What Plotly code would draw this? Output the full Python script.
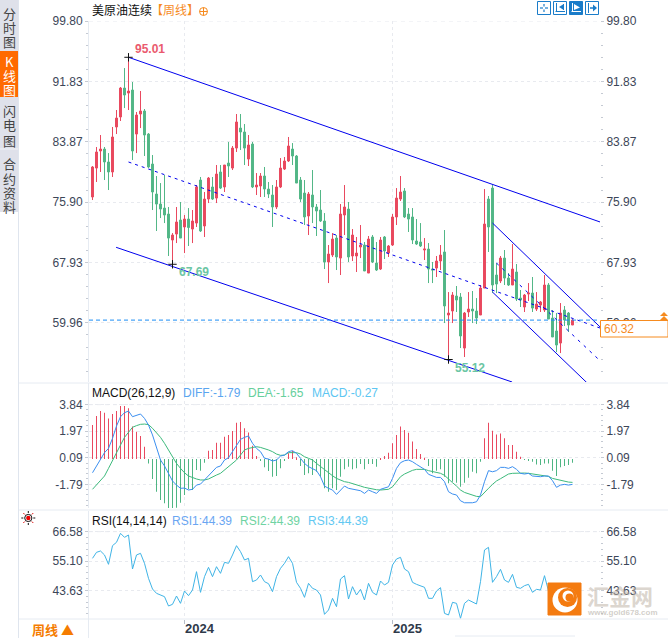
import numpy as np
import plotly.graph_objects as go

W, H = 668, 638

# weekly candles, oldest first
opens = [76.57,80.39,82.64,82.90,81.19,79.87,85.81,87.13,90.95,90.29,90.69,84.88,87.52,87.92,84.88,80.92,76.96,75.64,75.11,74.32,
         70.89,71.68,73.53,72.61,73.66,72.34,73.13,78.81,72.74,76.30,77.89,76.43,79.87,77.89,81.05,80.39,83.03,85.67,85.15,81.58,
         83.56,77.89,78.02,79.34,77.62,76.83,75.25,77.89,80.26,81.32,82.90,81.98,78.81,77.09,74.06,76.83,75.25,74.85,73.40,67.99,
         68.91,71.15,68.51,74.19,74.98,68.78,68.78,69.97,70.23,66.53,71.29,67.85,67.06,71.29,69.17,70.23,73.93,76.30,77.36,74.32,
         73.93,70.76,70.63,69.57,69.70,67.06,67.19,68.12,69.31,60.99,61.52,63.50,63.37,56.63,61.39,61.78,61.52,60.99,64.55,76.30,
         77.75,66.27,65.48,68.51,65.87,64.95,66.67,63.23,62.05,63.76,63.89,61.78,62.31,61.65,64.95,60.59,58.88,57.29,61.65,61.25,59.67]
highs = [80.66,83.17,84.75,83.17,82.37,85.81,88.05,91.09,93.59,95.01,91.75,87.79,90.56,88.18,85.01,82.11,79.34,78.41,79.47,75.25,
         71.81,75.25,75.91,74.19,75.11,74.85,78.15,79.21,77.23,79.21,79.21,80.79,80.79,80.79,83.83,83.30,87.52,87.52,86.20,84.75,
         83.83,79.73,79.73,80.53,78.55,78.15,78.81,81.71,81.85,84.49,83.69,82.11,79.21,78.81,77.23,80.13,75.64,77.49,74.45,70.23,
         71.81,71.55,75.64,78.15,75.91,72.34,71.29,72.87,70.63,71.42,71.55,70.63,71.29,71.42,70.23,74.32,77.75,79.34,77.75,75.11,
         75.11,73.66,73.13,71.15,70.49,67.99,68.78,70.23,72.21,64.02,64.02,64.82,63.89,61.39,64.02,64.16,63.23,64.95,77.62,76.70,
         78.15,67.85,68.78,69.57,66.53,70.36,67.72,64.29,63.76,65.21,66.01,64.02,62.84,66.27,65.21,61.65,61.25,62.57,62.18,61.39,60.46]
lows = [76.17,78.55,79.87,78.81,77.49,79.21,84.88,86.60,88.31,88.05,81.45,82.37,85.67,81.98,80.39,74.85,72.08,73.79,73.13,68.78,
        67.69,70.49,71.15,69.17,70.10,70.49,72.61,71.95,71.29,75.77,76.17,75.77,77.62,77.23,79.21,80.13,82.51,82.77,80.79,80.66,
        77.75,76.83,76.57,76.57,76.43,72.61,74.98,77.75,80.13,81.19,80.79,78.41,75.91,72.87,71.55,73.13,71.42,73.27,67.06,65.21,
        68.65,66.93,66.27,71.55,67.99,68.12,66.67,68.51,66.80,66.53,67.85,66.80,66.93,68.38,68.65,70.10,72.87,76.04,73.79,71.95,
        70.36,70.23,69.97,68.25,65.21,65.21,66.01,66.93,59.93,55.12,59.93,61.39,56.63,55.45,60.73,59.93,59.80,60.99,64.55,69.31,
        63.89,63.89,65.21,64.95,64.82,64.95,62.84,62.05,61.39,62.84,61.39,61.52,61.39,61.39,60.46,58.09,56.10,55.97,59.54,58.75,59.67]
closes = [80.53,82.51,82.90,81.19,79.87,84.49,86.99,90.95,90.03,90.56,82.64,87.39,87.92,84.75,80.53,77.23,75.64,74.98,74.19,71.15,
          71.55,73.27,71.15,73.66,72.54,73.40,77.89,72.08,76.30,79.07,76.30,79.60,77.75,80.79,80.66,83.03,86.47,85.15,83.03,83.43,
          77.89,78.15,79.34,77.62,76.96,75.25,77.89,80.39,81.32,83.30,81.98,78.41,76.30,73.93,76.96,75.25,74.72,73.40,67.99,69.04,
          71.02,68.65,74.32,75.25,68.65,71.55,69.17,70.23,66.80,71.02,67.99,66.93,70.89,69.44,70.10,73.93,76.43,77.23,73.93,73.66,
          70.89,70.36,70.10,69.70,67.06,66.93,68.12,68.91,62.18,61.25,63.63,62.97,58.22,61.25,61.78,61.52,60.59,64.55,73.00,72.61,
          64.95,65.08,68.51,65.87,64.95,67.06,63.10,62.97,63.63,63.89,61.91,62.44,62.71,64.95,60.46,58.09,57.03,61.25,60.33,59.67,60.32]

macd_hist = [2.40,3.04,3.39,3.27,2.87,3.18,3.39,3.75,3.75,3.58,2.29,1.93,1.63,0.87,-0.31,-1.41,-2.31,-2.90,-3.13,-3.56,
             -3.56,-3.44,-3.09,-2.54,-2.14,-2.19,-0.78,-0.82,-0.26,0.59,0.64,1.15,1.15,1.58,1.70,1.98,2.57,2.62,2.17,1.88,
             0.94,0.21,-0.14,-0.59,-0.85,-1.25,-1.20,-0.66,-0.07,0.40,0.57,0.12,-0.49,-1.13,-1.01,-1.13,-0.90,-1.25,-2.07,-2.31,
             -2.07,-2.19,-1.25,-0.73,-0.54,-0.73,-0.66,-0.35,-0.73,-0.35,-0.35,-0.54,0.02,0.21,0.45,1.11,1.70,2.29,2.05,1.86,
             1.23,0.71,0.35,0.09,-0.49,-1.01,-0.82,-0.73,-1.25,-1.72,-1.60,-1.67,-1.96,-1.67,-1.32,-0.90,-1.01,-0.19,1.46,2.57,
             2.00,1.74,1.81,1.46,0.99,0.99,0.52,0.16,-0.02,-0.07,-0.19,-0.38,-0.42,-0.31,-0.31,-0.82,-1.20,-0.59,-0.49,-0.42,-0.27]
macd_diff = [-0.97,-0.49,-0.02,0.45,0.75,1.46,2.33,2.99,3.27,3.39,2.99,3.11,3.18,2.87,2.40,1.70,0.87,-0.07,-0.49,-1.01,
             -1.55,-1.84,-2.07,-2.05,-2.19,-2.14,-1.84,-1.77,-1.48,-1.13,-0.90,-0.59,-0.49,-0.07,0.09,0.52,0.99,1.39,1.53,1.63,
             1.11,0.75,0.52,0.05,0.00,-0.14,-0.07,0.21,0.28,0.52,0.59,0.40,0.05,-0.31,-0.54,-0.66,-0.82,-1.25,-1.91,-2.07,
             -2.19,-2.50,-2.19,-1.91,-2.07,-2.12,-2.14,-2.24,-2.43,-2.19,-2.31,-2.43,-2.14,-2.07,-1.96,-1.37,-0.66,-0.26,-0.12,-0.07,
             -0.19,-0.38,-0.54,-0.73,-1.08,-1.20,-1.30,-1.30,-1.60,-2.31,-2.47,-2.54,-2.95,-3.09,-3.09,-3.09,-3.02,-2.54,-1.60,-0.82,
             -0.90,-0.82,-0.59,-0.59,-0.66,-0.54,-0.73,-1.01,-1.06,-1.01,-1.20,-1.25,-1.25,-1.20,-1.20,-1.53,-2.00,-1.84,-1.79,-1.84,-1.79]
macd_dea = [-2.14,-1.84,-1.53,-1.20,-0.66,-0.07,0.40,0.99,1.53,1.93,2.24,2.36,2.45,2.47,2.43,2.17,1.86,1.53,1.11,0.64,
            0.21,-0.31,-0.66,-0.97,-1.20,-1.32,-1.41,-1.48,-1.48,-1.41,-1.25,-1.13,-1.01,-0.78,-0.59,-0.31,-0.07,0.28,0.64,0.75,
            0.82,0.87,0.82,0.75,0.64,0.52,0.35,0.26,0.28,0.45,0.45,0.45,0.35,0.16,0.05,-0.07,-0.31,-0.54,-0.78,-1.01,
            -1.18,-1.37,-1.48,-1.60,-1.65,-1.72,-1.84,-1.91,-2.00,-2.07,-2.12,-2.17,-2.19,-2.19,-2.14,-1.96,-1.60,-1.25,-1.06,-0.90,
            -0.80,-0.73,-0.73,-0.73,-0.82,-0.87,-0.94,-1.01,-1.15,-1.44,-1.67,-1.91,-2.19,-2.36,-2.47,-2.57,-2.64,-2.66,-2.33,-2.07,
            -1.79,-1.55,-1.39,-1.23,-1.06,-1.01,-0.99,-0.97,-0.99,-1.01,-1.06,-1.13,-1.18,-1.20,-1.23,-1.37,-1.44,-1.51,-1.60,-1.63,-1.65]
rsi_vals = [56.15,58.50,59.02,57.46,53.81,61.10,62.41,65.92,64.36,65.27,51.98,57.46,58.11,54.20,48.33,44.16,42.47,41.82,41.17,37.52,
            38.17,41.43,38.56,43.38,41.56,43.77,50.94,42.86,48.99,52.63,48.99,52.89,50.29,54.59,54.20,57.46,61.10,58.76,55.50,56.15,
            47.03,47.68,49.64,47.03,46.25,43.12,48.99,52.24,54.20,56.80,54.20,46.77,44.43,40.91,46.38,44.43,43.77,41.82,34.26,35.96,
            40.52,37.26,48.07,49.38,40.25,45.08,41.82,44.03,39.86,46.38,42.86,41.82,47.29,45.73,46.77,53.55,55.89,56.54,51.98,50.94,
            46.77,45.99,45.47,44.82,40.52,40.52,43.38,44.69,34.65,34.00,38.95,38.56,32.70,38.56,39.86,39.21,38.30,47.03,59.41,60.45,
            46.77,48.99,51.85,47.68,46.77,49.90,44.82,44.43,45.47,45.99,42.86,44.03,43.77,49.38,43.38,41.17,38.56,42.47,43.77,43.38,44.39]

price_ticks = [99.80, 91.83, 83.87, 75.90, 67.93, 59.96]
macd_ticks = [3.84, 1.97, 0.09, -1.79]
rsi_ticks = [66.58, 55.10, 43.63]
year_ticks = [23, 75]
year_labels = ["2024", "2025"]
last_price = 60.32

# drawn trend lines as [bar index], [price]
chan_top_x, chan_top_y = [9, 126.9], [95.01, 73.27]
chan_mid_x, chan_mid_y = [9, 126.9], [81.19, 59.27]
chan_low_x, chan_low_y = [5.9, 104.9], [69.93, 52.15]
fast_top_x, fast_top_y = [100, 126.9], [73.13, 59.41]
fast_mid_x, fast_mid_y = [101, 126.7], [67.85, 55.05]
fast_low_x, fast_low_y = [100, 124.5], [64.02, 51.6]

RED = "#e9495f"
GREEN = "#53b787"
ORANGE = "#f68b1f"
BLUE = "#0000ee"
GRID = "#e8eaef"
LABEL = "#3c4658"
FONT = "Liberation Sans"
CJK = "Noto Sans CJK SC"


def px(x):
    return x / W


def py(y):
    return 1 - y / H


bars = list(range(len(closes)))
# 4 px per bar, bar centres on half pixels so the thin bars stay crisp
x_range = [-0.875, 126.875]
x_domain = [px(89), px(600)]

fig = go.Figure()

fig.add_trace(go.Candlestick(
    x=bars, open=opens, high=highs, low=lows, close=closes, xaxis="x", yaxis="y",
    increasing=dict(line=dict(color=RED, width=1), fillcolor=RED),
    decreasing=dict(line=dict(color=GREEN, width=1), fillcolor=GREEN),
    whiskerwidth=0, hoverinfo="skip",
))

for xs, ys, width, dash in [
    (chan_top_x, chan_top_y, 1, "solid"),
    (chan_low_x, chan_low_y, 1, "solid"),
    (chan_mid_x, chan_mid_y, 1, "3px,4px"),
    (fast_top_x, fast_top_y, 1, "solid"),
    (fast_low_x, fast_low_y, 1, "solid"),
    (fast_mid_x, fast_mid_y, 1, "3px,5px"),
]:
    fig.add_trace(go.Scatter(x=xs, y=ys, mode="lines", xaxis="x", yaxis="y",
                             line=dict(color=BLUE, width=width, dash=dash), hoverinfo="skip"))

# last price line sits on the right hand price axis
fig.add_trace(go.Scatter(x=x_range, y=[last_price, last_price], mode="lines", xaxis="x", yaxis="y4",
                         line=dict(color="#1b8df5", width=1, dash="4px,3px"), hoverinfo="skip"))

# high / low markers
fig.add_trace(go.Scatter(x=[9, 20, 89], y=[highs[9], lows[20], lows[89]], mode="markers", xaxis="x", yaxis="y",
                         marker=dict(symbol="cross-thin", size=6, line=dict(color="#111111", width=1)),
                         hoverinfo="skip"))

fig.add_trace(go.Bar(x=bars, y=macd_hist, xaxis="x2", yaxis="y2", width=0.25,
                     marker=dict(color=[RED if v >= 0 else "#4fb583" for v in macd_hist], line=dict(width=0)),
                     hoverinfo="skip"))
fig.add_trace(go.Scatter(x=bars, y=macd_dea, mode="lines", xaxis="x2", yaxis="y2",
                         line=dict(color="#3dba7c", width=1), hoverinfo="skip"))
fig.add_trace(go.Scatter(x=bars, y=macd_diff, mode="lines", xaxis="x2", yaxis="y5",
                         line=dict(color="#3b8ff0", width=1), hoverinfo="skip"))

fig.add_trace(go.Scatter(x=bars, y=rsi_vals, mode="lines", xaxis="x3", yaxis="y3",
                         line=dict(color="#3fb4e6", width=1), hoverinfo="skip"))
fig.add_trace(go.Scatter(x=bars, y=rsi_vals, mode="lines", xaxis="x3", yaxis="y6",
                         line=dict(color="rgba(0,0,0,0)", width=0), hoverinfo="skip"))


def x_axis(anchor, labels=False):
    return dict(
        domain=x_domain, range=x_range, fixedrange=True, anchor=anchor, tickmode="array", tickvals=year_ticks,
        ticktext=year_labels, showticklabels=labels, showgrid=True, gridcolor=GRID, griddash="dot",
        gridwidth=1, zeroline=False, showline=False, rangeslider=dict(visible=False),
        ticks="outside" if labels else "", ticklen=4, tickcolor="#b8bec8",
        tickfont=dict(family=FONT, size=13, color="#2f3a4a", weight="bold"), ticklabelshift=15,
        ticklabelstandoff=-7,
    )


def y_axis(ticks, top, bottom, rng, step, anchor, right=False, over=None):
    minor = list(np.arange(ticks[0], rng[0], -step))
    ax = dict(
        domain=[py(bottom), py(top)], range=rng, fixedrange=True, tickmode="array", tickvals=ticks,
        ticktext=[f"{t:.2f}" for t in ticks], zeroline=False, ticks="outside", ticklen=3,
        tickcolor="#c5cad3", tickfont=dict(family=FONT, size=12, color=LABEL),
        minor=dict(tickvals=minor, ticks="outside", ticklen=2, tickcolor="#c5cad3"),
        anchor=anchor,
    )
    if right:
        ax.update(side="right", overlaying=over, showgrid=False, showline=False)
    else:
        ax.update(side="left", showgrid=True, gridcolor=GRID, griddash="dot", showline=True,
                  linecolor="#e6ebf2", linewidth=1)
    return ax


rng_main = [52.15, 99.80]
rng_macd = [-3.46, 5.37]
rng_rsi = [32.44, 74.65]

shapes = []
annotations = []


def rect(x0, y0, x1, y1, fill, line=None, width=1, layer="above"):
    shapes.append(dict(type="rect", xref="paper", yref="paper", x0=px(x0), x1=px(x1), y0=py(y0), y1=py(y1),
                       fillcolor=fill, line=dict(color=line or fill, width=width if line else 0), layer=layer))


def seg(x0, y0, x1, y1, color, width=1):
    shapes.append(dict(type="line", xref="paper", yref="paper", x0=px(x0), x1=px(x1), y0=py(y0), y1=py(y1),
                       line=dict(color=color, width=width), layer="above"))


def circle(cx, cy, r, fill, line=None, width=1):
    shapes.append(dict(type="circle", xref="paper", yref="paper", x0=px(cx - r), x1=px(cx + r),
                       y0=py(cy + r), y1=py(cy - r), fillcolor=fill,
                       line=dict(color=line or fill, width=width if line else 0), layer="above"))


def poly(points, fill):
    path = "M " + " L ".join(f"{px(a)} {py(b)}" for a, b in points) + " Z"
    shapes.append(dict(type="path", xref="paper", yref="paper", path=path, fillcolor=fill,
                       line=dict(width=0), layer="above"))


def text(x, y, s, color, size=12, family=FONT, anchor="left", bold=False):
    annotations.append(dict(xref="paper", yref="paper", x=px(x), y=py(y), text=s, showarrow=False,
                            xanchor=anchor, yanchor="middle", borderpad=0,
                            font=dict(family=family, size=size, color=color, weight="bold" if bold else "normal")))


# left tab strip
rect(0, 0, 18, 212, "#dfe1ea", layer="below")
rect(0, 51, 18, 97, "#ff6a00")
seg(0, 149, 18, 149, "#f2f3f7")
for label, col, ys in [
    ("分时图", "#444444", [13, 27, 41]),
    ("K线图", "#ffffff", [62, 76, 90]),
    ("闪电图", "#444444", [110, 125, 140]),
    ("合约资料", "#444444", [163, 178, 193, 207]),
]:
    for ch, yy in zip(label, ys):
        text(9, yy, ch, col, size=13, family=CJK, anchor="center")
seg(18.5, 0, 18.5, 638, "#dfe5ee")

# panel separators
for yy in [383, 510, 619]:
    seg(19, yy, W, yy, "#e6ebf2")
seg(88.5, 619, 88.5, 638, "#e6ebf2")
seg(455, 636, 575, 636, "#e6ebf2")

# stronger dashes on the top tick of each panel
for axis, xref, val in [("y", "x", price_ticks[0]), ("y2", "x2", macd_ticks[0]), ("y3", "x3", rsi_ticks[0])]:
    shapes.append(dict(type="line", xref=xref, yref=axis, x0=x_range[0], x1=x_range[1], y0=val, y1=val,
                       line=dict(color=GRID, width=1, dash="4px,4px"), layer="below"))

# headers
text(91, 10, "美原油连续", "#111111", size=12, family=CJK)
text(150, 10, "【周线】", ORANGE, size=12, family=CJK)
circle(203.5, 11.5, 4, "rgba(0,0,0,0)", ORANGE, 1)
seg(199.5, 11.5, 207.5, 11.5, ORANGE)
seg(203.5, 7.5, 203.5, 15.5, ORANGE)

text(91, 392.5, "MACD(26,12,9)", "#111111")
text(182, 392.5, "DIFF:-1.79", "#5aa5f0")
text(247, 392.5, "DEA:-1.65", "#66cf9c")
text(311, 392.5, "MACD:-0.27", "#5cc6f2")

text(91, 520.5, "RSI(14,14,14)", "#111111")
text(171, 520.5, "RSI1:44.39", "#6aa6f2")
text(239, 520.5, "RSI2:44.39", "#6fd3a2")
text(307, 520.5, "RSI3:44.39", "#62c8f2")

# extreme labels tied to their bars
for idx, val, s, col, dx, dy in [
    (9, highs[9], "95.01", "#ea5a6e", 5, 8),
    (20, lows[20], "67.69", "#6cc6a4", 5, -8),
    (89, lows[89], "55.12", "#6cc6a4", 5, -8),
]:
    annotations.append(dict(xref="x", yref="y", x=idx, y=val, text=s, showarrow=False, xanchor="left",
                            xshift=dx, yshift=dy, borderpad=0,
                            font=dict(family=FONT, size=12, color=col, weight="bold")))

# last price tag
rect(600.5, 320.5, 668, 337, "#ffffff", ORANGE, 1)
text(603, 329, f"{last_price:.2f}", ORANGE, size=12)
poly([(660, 316), (664, 312), (668, 316)], ORANGE)
poly([(660, 320), (664, 316), (668, 320)], ORANGE)

# tool buttons
BTN = "#1a7cc9"
for n, x0 in enumerate([537, 553, 569, 585]):
    filled = n == 2
    ink = "#ffffff" if filled else BTN
    rect(x0 + 0.5, 1.5, x0 + 13.5, 14.5, BTN if filled else "#ffffff", BTN, 1)
    if n == 0:
        for a, b, c, d in [(x0 + 3, 8, x0 + 6, 8), (x0 + 8, 8, x0 + 11, 8), (x0 + 7, 4, x0 + 7, 6.5), (x0 + 7, 9.5, x0 + 7, 12)]:
            seg(a, b, c, d, ink, 1.2)
    elif n == 1:
        seg(x0 + 3.5, 3, x0 + 3.5, 12, ink)
        seg(x0 + 2.5, 11.5, x0 + 12, 11.5, ink)
        seg(x0 + 10.5, 4, x0 + 10.5, 10, ink)
        poly([(x0 + 6, 7), (x0 + 10, 4.5), (x0 + 10, 9.5)], ink)
    elif n == 2:
        seg(x0 + 3.5, 3, x0 + 3.5, 12, ink)
        seg(x0 + 2.5, 11.5, x0 + 12, 11.5, ink)
        poly([(x0 + 5, 4), (x0 + 11, 7.5), (x0 + 5, 10)], ink)
    else:
        seg(x0 + 3.5, 3, x0 + 3.5, 13, ink)
        seg(x0 + 5, 8, x0 + 8, 8, ink, 1.5)
        poly([(x0 + 8, 4.5), (x0 + 12, 8), (x0 + 8, 11.5)], ink)

# indicator settings icon
for a in np.arange(0, 2 * np.pi, np.pi / 4):
    seg(28.3 + 5 * np.cos(a), 518 + 5 * np.sin(a), 28.3 + 7 * np.cos(a), 518 + 7 * np.sin(a),
        "#111111" if round(a / (np.pi / 4)) % 2 == 0 else "#e00000")
circle(28.3, 518, 3.6, "#ffffff", "#111111", 1)
circle(28.3, 518, 2.2, "#ee0000")

# period switch
text(53, 629, "周线 ▲", "#f57c00", size=13, family=CJK, anchor="center", bold=True)

# watermark
shapes.append(dict(type="rect", xref="paper", yref="paper", x0=px(548), x1=px(581), y0=py(615), y1=py(583),
                   fillcolor="#f47b10", line=dict(color="#f47b10", width=1), layer="above"))
circle(565, 600, 12.5, "#ffffff")
circle(567.5, 597.5, 9.5, "#f47b10")
circle(568, 596, 5.5, "#ffffff")
circle(569.5, 597.5, 4, "#f47b10")
text(586, 595, "汇金网", "rgba(190,178,165,0.55)", size=22, family=CJK, bold=True)
text(586, 612, "www.gold678.com", "rgba(190,185,178,0.7)", size=8, bold=True)

fig.update_layout(
    width=W, height=H, margin=dict(l=0, r=0, t=0, b=0, autoexpand=False),
    paper_bgcolor="#ffffff", plot_bgcolor="#ffffff",
    showlegend=False, barmode="overlay", hovermode=False, dragmode=False, boxgap=0.3,
    xaxis=x_axis("y"), xaxis2=x_axis("y2"), xaxis3=x_axis("y3", labels=True),
    yaxis=y_axis(price_ticks, 21, 382, rng_main, 1.594, "x"),
    yaxis2=y_axis(macd_ticks, 383, 508, rng_macd, 0.375, "x2"),
    yaxis3=y_axis(rsi_ticks, 511, 619, rng_rsi, 2.295, "x3"),
    yaxis4=y_axis(price_ticks, 21, 382, rng_main, 1.594, "x", right=True, over="y"),
    yaxis5=y_axis(macd_ticks, 383, 508, rng_macd, 0.375, "x2", right=True, over="y2"),
    yaxis6=y_axis(rsi_ticks, 511, 619, rng_rsi, 2.295, "x3", right=True, over="y3"),
    shapes=shapes, annotations=annotations,
)

fig.write_html("out.html", config=dict(displayModeBar=False),
               post_script="document.body.style.margin='0';document.body.style.overflow='hidden';")
